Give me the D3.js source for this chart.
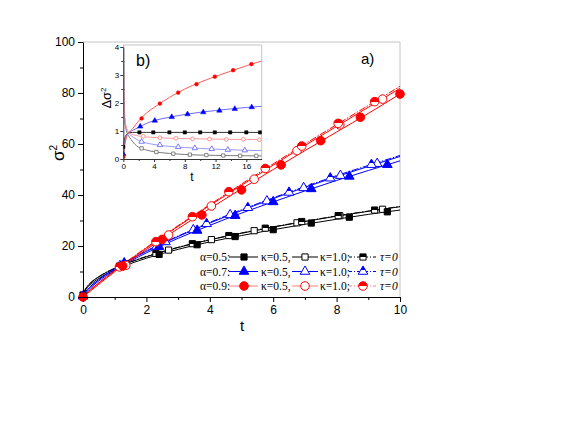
<!DOCTYPE html>
<html><head><meta charset="utf-8">
<script src="https://cdn.jsdelivr.net/npm/d3@7"></script>
<style>body{margin:0;background:#fff} svg{display:block}</style>
</head><body>
<svg id="c" width="582" height="447"></svg>
<script>
// ---------------- main plot data (σ² vs t) ----------------
const xTicks = [0, 2, 4, 6, 8, 10];
const yTicks = [0, 20, 40, 60, 80, 100];
const tGrid = [0, 0.1, 0.25, 0.5, 1, 1.5, 2, 3, 4, 5, 6, 7, 8, 9, 10];
const blackK05 = [0.8, 3.0, 5.0, 7.3, 10.6, 13.1, 15.2, 18.7, 21.6, 24.1, 26.4, 28.5, 30.5, 32.4, 34.1];
const blackK10 = [1.2, 3.5, 5.6, 7.9, 11.2, 13.7, 15.8, 19.4, 22.4, 25.0, 27.4, 29.6, 31.7, 33.6, 35.4];
const blackT0  = [1.2, 3.6, 5.7, 8.0, 11.3, 13.8, 15.9, 19.5, 22.5, 25.1, 27.5, 29.7, 31.8, 33.7, 35.5];
const blueK05  = [0.3, 1.8, 3.7, 6.3, 10.5, 14.1, 17.3, 23.0, 28.1, 32.9, 37.3, 41.6, 45.7, 49.6, 53.4];
const blueK10  = [0.5, 2.2, 4.2, 6.8, 11.0, 14.6, 17.9, 23.7, 29.0, 33.9, 38.6, 43.0, 47.2, 51.2, 55.1];
const blueT0   = [0.5, 2.3, 4.3, 6.9, 11.1, 14.8, 18.1, 23.9, 29.3, 34.2, 38.9, 43.3, 47.6, 51.6, 55.5];
const redK05   = [0.0, 1.0, 2.5, 5.0, 9.9, 14.3, 18.6, 26.8, 34.7, 42.4, 50.0, 57.4, 64.7, 72.0, 79.6];
const redK10   = [0.0, 1.3, 3.0, 5.5, 10.3, 14.8, 19.2, 27.7, 35.9, 43.8, 51.7, 59.4, 66.9, 74.4, 81.8];
const redT0    = [0.0, 1.3, 3.0, 5.6, 10.4, 15.0, 19.4, 28.0, 36.2, 44.3, 52.2, 60.0, 67.6, 75.1, 82.6];

// marker points [t, σ²]
const blackK05Pts = [[0,0.8],[1.2,11.8],[2.4,16.7],[3.6,20.5],[4.8,23.7],[6.0,26.4],[7.2,29.0],[8.4,31.3],[9.6,33.4]];
const blackK10Pts = [[1.35,13.0],[2.7,18.4],[4.05,22.5],[5.4,26.0],[6.75,29.1],[8.1,31.9],[9.45,34.4]];
const blackT0Pts  = [[1.15,12.1],[2.3,17.1],[3.45,20.9],[4.6,24.1],[5.75,27.0],[6.9,29.6],[8.05,31.9],[9.2,34.1]];
const blueK05Pts  = [[0,0.3],[1.2,12.1],[2.4,19.7],[3.6,26.1],[4.8,31.9],[6.0,37.3],[7.2,42.4],[8.4,47.3],[9.6,51.9]];
const blueK10Pts  = [[1.16,12.2],[2.32,19.8],[3.48,26.3],[4.64,32.2],[5.8,37.6],[6.96,42.8],[8.12,47.6],[9.28,52.3]];
const blueT0Pts   = [[1.3,13.3],[2.6,21.6],[3.9,28.7],[5.2,35.0],[6.5,41.0],[7.8,46.6],[9.1,51.9]];
const redK05Pts   = [[0,0],[1.25,12.2],[2.5,22.6],[3.75,32.2],[5.0,42.0],[6.25,51.8],[7.5,61.3],[8.75,70.5],[10,79.6]];
const redK10Pts   = [[1.35,12.4],[2.7,24.3],[4.05,35.7],[5.4,46.2],[6.75,57.4],[8.1,67.5],[9.45,77.6]];
const redT0Pts    = [[1.15,11.8],[2.3,21.7],[3.45,31.5],[4.6,41.3],[5.75,50.4],[6.9,59.2],[8.05,68.1],[9.2,76.6]];

// ---------------- inset data (Δσ² vs t) ----------------
const insetXTicks = [0, 4, 8, 12, 16];
const insetYTicks = [0, 1, 2, 3, 4];
const insetT = [0, 0.2, 0.5, 0.8, 1.2, 2, 3, 4, 6, 8, 10, 12, 14, 16, 18];
const dRedK05   = [0.08, 0.5, 0.85, 0.97, 1.08, 1.36, 1.64, 1.84, 2.2, 2.5, 2.74, 2.95, 3.14, 3.33, 3.5];
const dBlueK05  = [0.18, 0.6, 0.88, 0.96, 1.02, 1.13, 1.27, 1.37, 1.49, 1.59, 1.67, 1.73, 1.79, 1.84, 1.88];
const dBlackK05 = [0.43, 0.75, 0.9, 0.94, 0.95, 0.95, 0.95, 0.95, 0.95, 0.95, 0.95, 0.95, 0.95, 0.95, 0.95];
const insetTOpen = [0.03, 0.06, 0.1, 0.2, 0.4, 0.7, 1, 1.5, 2, 3, 4, 6, 8, 10, 12, 14, 16, 18];
const dRedK10   = [4.2, 2.9, 2.2, 1.55, 1.15, 0.97, 0.9, 0.85, 0.82, 0.79, 0.77, 0.74, 0.73, 0.72, 0.71, 0.70, 0.70, 0.69];
const dBlueK10  = [4.2, 2.7, 2.0, 1.4, 1.08, 0.92, 0.84, 0.74, 0.66, 0.57, 0.52, 0.45, 0.41, 0.38, 0.35, 0.33, 0.31, 0.30];
const dBlackK10 = [4.2, 2.6, 1.9, 1.3, 1.0, 0.82, 0.7, 0.53, 0.42, 0.32, 0.26, 0.2, 0.16, 0.14, 0.13, 0.12, 0.115, 0.11];
const dRedK05Pts   = [[0,0.08],[2.38,1.45],[4.76,1.98],[7.14,2.37],[9.52,2.67],[11.9,2.94],[14.28,3.17],[16.66,3.39]];
const dBlueK05Pts  = [[0,0.18],[2.2,1.16],[4.1,1.37],[6.3,1.5],[8.35,1.6],[10.4,1.67],[12.5,1.73],[14.5,1.79],[16.7,1.85]];
const dBlackK05Pts = [[0,0.43],[2.1,0.95],[3.9,0.95],[6,0.95],[8,0.95],[10,0.95],[11.9,0.95],[13.9,0.95],[16,0.95],[17.8,0.95]];
const dRedK10Pts   = [[2.6,0.81],[4.76,0.76],[6.84,0.74],[9.0,0.72],[11.2,0.71],[13.4,0.70],[15.6,0.70],[17.7,0.69]];
const dBlueK10Pts  = [[2.38,0.62],[4.76,0.5],[7.14,0.43],[9.3,0.39],[11.5,0.36],[13.6,0.33],[15.8,0.31]];
const dBlackK10Pts = [[2.38,0.38],[4.3,0.25],[6.5,0.19],[8.66,0.155],[10.8,0.14],[13,0.125],[15.2,0.117],[17.3,0.112]];

const legendAlpha = ["α=0.5:", "α=0.7:", "α=0.9:"];

// ---------------- drawing ----------------
const svg = d3.select('#c');
const SANS = "'Liberation Sans', Arial, sans-serif";
const SERIF = "'Liberation Serif', 'Times New Roman', serif";

const defs = svg.append('defs');
function halfGrad(id, color) {
  const g = defs.append('linearGradient').attr('id', id)
    .attr('x1', 0).attr('y1', 0).attr('x2', 0).attr('y2', 1);
  g.append('stop').attr('offset', '0%').attr('stop-color', color);
  g.append('stop').attr('offset', '50%').attr('stop-color', color);
  g.append('stop').attr('offset', '50%').attr('stop-color', '#fff');
  g.append('stop').attr('offset', '100%').attr('stop-color', '#fff');
}
halfGrad('hBlack', '#000'); halfGrad('hBlue', '#0000ff'); halfGrad('hRed', '#ff0000');

const symTypes = {square: d3.symbolSquare, triangle: d3.symbolTriangle, circle: d3.symbolCircle};
const symSize = {square: 38, triangle: 40, circle: 58};

const x = d3.scaleLinear().domain([0, 10]).range([83, 400]);
const y = d3.scaleLinear().domain([0, 100]).range([297, 42]);

// frame (top/right light gray)
svg.append('line').attr('x1', 83).attr('x2', 400).attr('y1', 42).attr('y2', 42).attr('stroke', '#c4c4c4');
svg.append('line').attr('x1', 400).attr('x2', 400).attr('y1', 42).attr('y2', 297).attr('stroke', '#c4c4c4');

const lineMain = d3.line().x(d => x(d[0])).y(d => y(d[1])).curve(d3.curveMonotoneX);

const mainSeries = [
  {t: tGrid, v: blackK10, pts: blackK10Pts, color: '#000', sym: 'square', kind: 'open'},
  {t: tGrid, v: blackT0,  pts: blackT0Pts,  color: '#000', sym: 'square', kind: 'half', half: 'hBlack'},
  {t: tGrid, v: blackK05, pts: blackK05Pts, color: '#000', sym: 'square', kind: 'filled'},
  {t: tGrid, v: blueK10,  pts: blueK10Pts,  color: '#0000ff', sym: 'triangle', kind: 'open'},
  {t: tGrid, v: blueT0,   pts: blueT0Pts,   color: '#0000ff', sym: 'triangle', kind: 'half', half: 'hBlue'},
  {t: tGrid, v: blueK05,  pts: blueK05Pts,  color: '#0000ff', sym: 'triangle', kind: 'filled'},
  {t: tGrid, v: redK10,   pts: redK10Pts,   color: '#ff0000', sym: 'circle', kind: 'open'},
  {t: tGrid, v: redT0,    pts: redT0Pts,    color: '#ff0000', sym: 'circle', kind: 'half', half: 'hRed'},
  {t: tGrid, v: redK05,   pts: redK05Pts,   color: '#ff0000', sym: 'circle', kind: 'filled'}
];

function markerFill(s) {
  if (s.kind === 'filled') return s.color;
  if (s.kind === 'open') return '#fff';
  return 'url(#' + s.half + ')';
}

const gLines = svg.append('g');
mainSeries.forEach(s => {
  gLines.append('path')
    .datum(s.t.map((t, i) => [t, s.v[i]]))
    .attr('d', lineMain).attr('fill', 'none')
    .attr('stroke', s.color).attr('stroke-width', 1)
    .attr('stroke-dasharray', s.kind === 'half' ? '7,1.5,1.5,1.5' : null);
});
const gMarks = svg.append('g');
mainSeries.forEach(s => {
  gMarks.selectAll(null).data(s.pts).enter().append('path')
    .attr('transform', d => `translate(${x(d[0])},${y(d[1])})`)
    .attr('d', d3.symbol().type(symTypes[s.sym]).size(symSize[s.sym]))
    .attr('fill', markerFill(s)).attr('stroke', s.color).attr('stroke-width', 1);
});

// axes
function styleAxis(g, size) {
  g.selectAll('text').attr('font-family', SANS).attr('font-size', size).attr('fill', '#000');
  g.selectAll('line,path').attr('stroke', '#000');
}
const gx = svg.append('g').attr('transform', 'translate(0,297)')
  .call(d3.axisBottom(x).tickValues(xTicks).tickSize(5).tickSizeOuter(0).tickPadding(3).tickFormat(d3.format('d')));
styleAxis(gx, '12px');
svg.append('g').attr('transform', 'translate(0,297)')
  .call(d3.axisBottom(x).tickValues([1, 3, 5, 7, 9]).tickSize(3).tickFormat(''))
  .call(g => g.select('.domain').remove()).selectAll('line').attr('stroke', '#000');
const gy = svg.append('g').attr('transform', 'translate(83,0)')
  .call(d3.axisLeft(y).tickValues(yTicks).tickSize(5).tickSizeOuter(0).tickPadding(3).tickFormat(d3.format('d')));
styleAxis(gy, '12px');
svg.append('g').attr('transform', 'translate(83,0)')
  .call(d3.axisLeft(y).tickValues([10, 30, 50, 70, 90]).tickSize(3).tickFormat(''))
  .call(g => g.select('.domain').remove()).selectAll('line').attr('stroke', '#000');

// axis titles
svg.append('text').attr('x', 242).attr('y', 331).attr('text-anchor', 'middle')
  .attr('font-family', SANS).attr('font-size', '15px').text('t');
const yt = svg.append('text').attr('transform', 'translate(64,153) rotate(-90)')
  .attr('text-anchor', 'middle').attr('font-family', SANS).attr('font-size', '17px');
yt.append('tspan').text('σ');
yt.append('tspan').attr('dy', -7).attr('font-size', '10px').text('2');

svg.append('text').attr('x', 361).attr('y', 64).attr('font-family', SANS).attr('font-size', '15px').text('a)');

// ---------------- inset ----------------
const ix = d3.scaleLinear().domain([0, 18]).range([123.3, 261.7]);
const iy = d3.scaleLinear().domain([0, 4]).range([159, 47]);
svg.append('rect').attr('x', 123.3).attr('y', 45).attr('width', 138.4).attr('height', 114).attr('fill', '#fff');
defs.append('clipPath').attr('id', 'insetClip').append('rect')
  .attr('x', 123.3).attr('y', 45).attr('width', 138.4).attr('height', 114);
svg.append('line').attr('x1', 123.3).attr('x2', 261.7).attr('y1', 45).attr('y2', 45).attr('stroke', '#c4c4c4');
svg.append('line').attr('x1', 261.7).attr('x2', 261.7).attr('y1', 45).attr('y2', 159).attr('stroke', '#c4c4c4');

const lineIn = d3.line().x(d => ix(d[0])).y(d => iy(d[1])).curve(d3.curveMonotoneX);
const insetSeries = [
  {t: insetTOpen, v: dBlackK10, pts: dBlackK10Pts, line: '#7a7a7a', color: '#6a6a6a', sym: 'square', kind: 'open'},
  {t: insetTOpen, v: dBlueK10,  pts: dBlueK10Pts,  line: '#9a9aff', color: '#5a5aff', sym: 'triangle', kind: 'open'},
  {t: insetTOpen, v: dRedK10,   pts: dRedK10Pts,   line: '#ff9a9a', color: '#ff7a7a', sym: 'circle', kind: 'open'},
  {t: insetT, v: dBlackK05, pts: dBlackK05Pts, line: '#333', color: '#000', sym: 'square', kind: 'filled'},
  {t: insetT, v: dBlueK05,  pts: dBlueK05Pts,  line: '#6a6aff', color: '#0000ff', sym: 'triangle', kind: 'filled'},
  {t: insetT, v: dRedK05,   pts: dRedK05Pts,   line: '#ff5a5a', color: '#ff0000', sym: 'circle', kind: 'filled'}
];
const inSym = {square: 11, triangle: 13, circle: 11};
const gIn = svg.append('g').attr('clip-path', 'url(#insetClip)');
insetSeries.forEach(s => {
  gIn.append('path').datum(s.t.map((t, i) => [t, s.v[i]]))
    .attr('d', lineIn).attr('fill', 'none').attr('stroke', s.line).attr('stroke-width', 1);
});
insetSeries.forEach(s => {
  gIn.selectAll(null).data(s.pts).enter().append('path')
    .attr('transform', d => `translate(${ix(d[0])},${iy(d[1])})`)
    .attr('d', d3.symbol().type(symTypes[s.sym]).size(inSym[s.sym]))
    .attr('fill', s.kind === 'filled' ? s.color : '#fff')
    .attr('stroke', s.color).attr('stroke-width', s.kind === 'filled' ? 0.5 : 0.8);
});

function styleInset(g) {
  g.selectAll('text').attr('font-family', SANS).attr('font-size', '8px').attr('fill', '#000');
  g.selectAll('line,path').attr('stroke', '#333');
}
const gix = svg.append('g').attr('transform', 'translate(0,159)')
  .call(d3.axisBottom(ix).tickValues(insetXTicks).tickSize(3).tickSizeOuter(0).tickPadding(1).tickFormat(d3.format('d')));
styleInset(gix);
svg.append('g').attr('transform', 'translate(0,159)')
  .call(d3.axisBottom(ix).tickValues([2, 6, 10, 14]).tickSize(2).tickFormat(''))
  .call(g => g.select('.domain').remove()).selectAll('line').attr('stroke', '#333');
const giy = svg.append('g').attr('transform', 'translate(123.3,0)')
  .call(d3.axisLeft(iy).tickValues(insetYTicks).tickSize(3).tickSizeOuter(0).tickPadding(1).tickFormat(d3.format('d')));
styleInset(giy);
svg.append('g').attr('transform', 'translate(123.3,0)')
  .call(d3.axisLeft(iy).tickValues([0.5, 1.5, 2.5, 3.5]).tickSize(2).tickFormat(''))
  .call(g => g.select('.domain').remove()).selectAll('line').attr('stroke', '#333');

svg.append('text').attr('x', 192).attr('y', 181).attr('text-anchor', 'middle')
  .attr('font-family', SANS).attr('font-size', '12px').text('t');
const iyt = svg.append('text').attr('transform', 'translate(111,98) rotate(-90)')
  .attr('text-anchor', 'middle').attr('font-family', SANS).attr('font-size', '13px');
iyt.append('tspan').text('Δσ');
iyt.append('tspan').attr('dy', -5).attr('font-size', '8px').text('2');
svg.append('text').attr('x', 136).attr('y', 66).attr('font-family', SANS).attr('font-size', '16px').text('b)');

// ---------------- legend ----------------
const legendRows = [
  {label: legendAlpha[0], color: '#000', line: '#000', sym: 'square', half: 'hBlack'},
  {label: legendAlpha[1], color: '#0000ff', line: '#0000ff', sym: 'triangle', half: 'hBlue'},
  {label: legendAlpha[2], color: '#ff0000', line: '#ff7a7a', sym: 'circle', half: 'hRed'}
];
const gL = svg.append('g');
legendRows.forEach((r, i) => {
  const cy = 257 + i * 14.5;
  const txt = (xx, s, italic) => gL.append('text').attr('x', xx).attr('y', cy + 4)
    .attr('font-family', SERIF).attr('font-size', '11.5px')
    .attr('font-style', italic ? 'italic' : null).text(s);
  txt(200, r.label);
  gL.append('line').attr('x1', 229).attr('x2', 258).attr('y1', cy).attr('y2', cy).attr('stroke', r.line);
  gL.append('path').attr('transform', `translate(244,${cy})`)
    .attr('d', d3.symbol().type(symTypes[r.sym]).size(symSize[r.sym]))
    .attr('fill', r.color).attr('stroke', r.color);
  txt(261, 'κ=0.5,');
  gL.append('line').attr('x1', 292).attr('x2', 318).attr('y1', cy).attr('y2', cy).attr('stroke', r.line);
  gL.append('path').attr('transform', `translate(305,${cy})`)
    .attr('d', d3.symbol().type(symTypes[r.sym]).size(symSize[r.sym]))
    .attr('fill', '#fff').attr('stroke', r.color);
  txt(320, 'κ=1.0;');
  gL.append('line').attr('x1', 349).attr('x2', 377).attr('y1', cy).attr('y2', cy).attr('stroke', r.line)
    .attr('stroke-dasharray', '3,2,1,2');
  gL.append('path').attr('transform', `translate(363,${cy})`)
    .attr('d', d3.symbol().type(symTypes[r.sym]).size(symSize[r.sym]))
    .attr('fill', `url(#${r.half})`).attr('stroke', r.color);
  txt(380, 'τ=0', true);
});
</script></body></html>
